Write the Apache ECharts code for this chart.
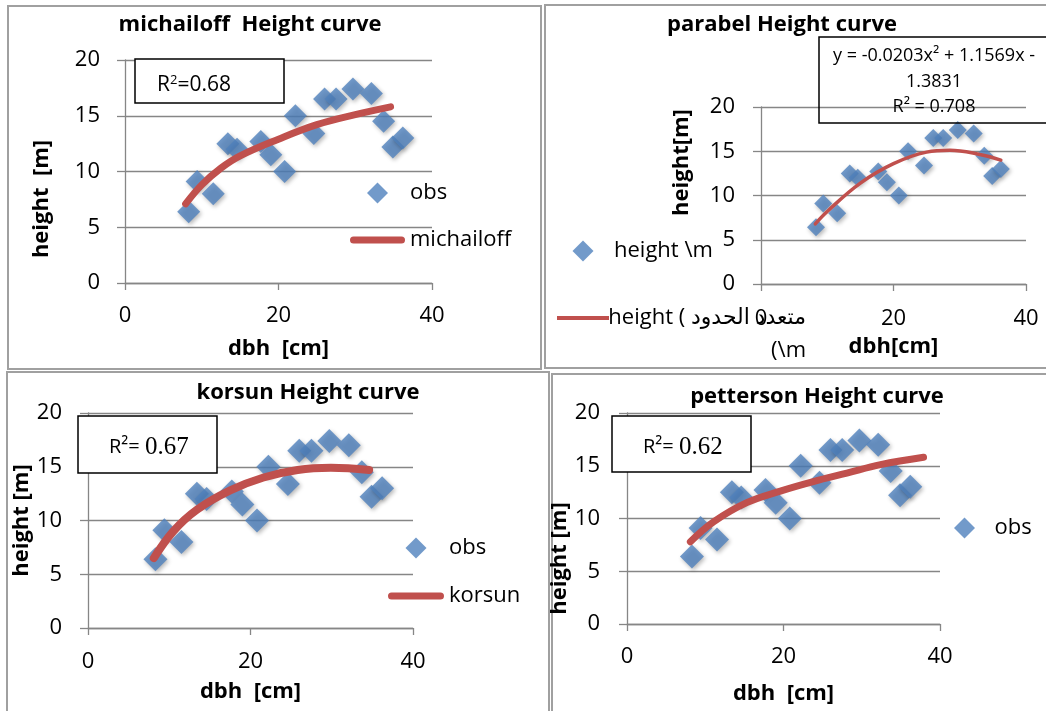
<!DOCTYPE html>
<html>
<head>
<meta charset="utf-8">
<script src="https://cdn.jsdelivr.net/npm/echarts@6/dist/echarts.min.js"></script>
<style>
  html, body { margin: 0; padding: 0; background: #fff; }
  #main { width: 1046px; height: 711px; }
</style>
</head>
<body>
<div id="main"></div>
<script>
// observed trees (same in all four panels)
var dbh    = [8.3, 9.4, 11.5, 13.4, 14.6, 17.7, 19.0, 20.8, 22.2, 24.6, 26.0, 27.5, 29.7, 32.1, 33.7, 34.9, 36.2];
var height = [6.4, 9.1, 8.0, 12.5, 12.0, 12.7, 11.5, 10.0, 15.0, 13.4, 16.5, 16.5, 17.4, 17.0, 14.5, 12.2, 13.0];

// fitted curves
var michailoffX = [7.9, 10, 12.5, 15, 20, 25, 30, 34.6];
var michailoffH = [7.1, 8.8, 10.3, 11.4, 12.9, 14.2, 15.1, 15.8];
var parabelX = [8.2, 10, 15, 20, 25, 28.5, 32, 36.2];
var parabelH = [6.8, 8.2, 11.4, 13.6, 14.9, 15.1, 14.8, 14.0];
var korsunX = [8.1, 10.5, 13.4, 17.5, 21.6, 25.8, 29.9, 34.6];
var korsunH = [6.5, 9.0, 11.0, 12.8, 14.0, 14.7, 14.9, 14.7];
var pettersonX = [8.1, 11.1, 15.3, 19.6, 23.8, 28.1, 32.4, 37.9];
var pettersonH = [7.8, 9.7, 11.5, 12.6, 13.5, 14.3, 15.1, 15.8];

var titles = ['michailoff  Height curve', 'parabel Height curve', 'korsun Height curve', 'petterson Height curve'];
var xNames = ['dbh  [cm]', 'dbh[cm]', 'dbh  [cm]', 'dbh  [cm]'];
var yNames = ['height  [m]', 'height[m]', 'height [m]', 'height [m]'];
var r2Values = ['0.68', '0.708', '0.67', '0.62'];
var obsName = 'height \\m';
var polyName = 'متعدد الحدود (height \\m)';

var FONT = '"Open Sans", "DejaVu Sans", sans-serif';
var AXIS = '#868686';
var BLUE = '#4f81bd';
var RED = '#c0504d';

// legend icons (built-in diamond gets stretched, paths keep their aspect)
var DIAMOND = 'path://M0,-1L1,0L0,1L-1,0Z';
var FAT_BAR = 'path://M3.5,0L51.5,0A3.5,3.5 0 0 1 51.5,7L3.5,7A3.5,3.5 0 0 1 3.5,0Z';
var THIN_BAR = 'path://M0,0L52,0L52,4L0,4Z';

function zip(a, b) {
  var out = [];
  for (var i = 0; i < a.length; i++) out.push([a[i], b[i]]);
  return out;
}

// plot areas: [left, top, width, height]
var plots = [
  [125, 60, 307, 223],
  [761, 107, 265, 177],
  [88, 413, 325, 215],
  [627, 413, 313, 211]
];
var xLabelMargin = [22, 24, 23, 22];
var xNameGap = [55, 52, 53, 59];
var yLabelMargin = [25, 26, 26, 27];
var yNameGap = [72, 68, 45, 40];
var yNamePad = [[0, 55, 0, 0], [0, 0, 0, 66], [0, 0, 0, 0], [0, 80, 0, 0]];

var grids = [], xAxes = [], yAxes = [];
for (var i = 0; i < 4; i++) {
  grids.push({ left: plots[i][0], top: plots[i][1], width: plots[i][2], height: plots[i][3] });
  xAxes.push({
    gridIndex: i, type: 'value', min: 0, max: 40, interval: 20,
    axisLine: { onZero: false, lineStyle: { color: AXIS, width: 1.3 } },
    axisTick: { show: true, length: 7, lineStyle: { color: AXIS, width: 1.3 } },
    axisLabel: { margin: xLabelMargin[i], fontSize: 22, color: '#000', fontFamily: FONT },
    splitLine: { show: false },
    name: xNames[i], nameLocation: 'middle', nameGap: xNameGap[i],
    nameTextStyle: { fontSize: 22, fontWeight: 'bold', color: '#000', fontFamily: FONT }
  });
  yAxes.push({
    gridIndex: i, type: 'value', min: 0, max: 20, interval: 5,
    axisLine: { show: true, lineStyle: { color: AXIS, width: 1.3 } },
    axisTick: { show: true, length: 8, lineStyle: { color: AXIS, width: 1.3 } },
    axisLabel: { margin: yLabelMargin[i], fontSize: 22, color: '#000', fontFamily: FONT },
    splitLine: { show: true, lineStyle: { color: AXIS, width: 1.3 } },
    name: yNames[i], nameLocation: 'middle', nameRotate: 90, nameGap: yNameGap[i],
    nameTextStyle: { fontSize: 22, fontWeight: 'bold', color: '#000', fontFamily: FONT, padding: yNamePad[i] }
  });
}

var titleCenters = [[250, 14], [782, 14], [308, 382], [817, 386]];
var titleList = titles.map(function (t, i) {
  return {
    text: t, left: titleCenters[i][0], top: titleCenters[i][1], textAlign: 'center', padding: 0,
    textStyle: { fontSize: 22, fontWeight: 'bold', color: '#000', fontFamily: FONT }
  };
});

function obsSeries(idx, name, size) {
  return {
    type: 'scatter', name: name, xAxisIndex: idx, yAxisIndex: idx,
    data: zip(dbh, height), symbol: 'diamond', symbolSize: size,
    itemStyle: { color: BLUE, shadowBlur: 4, shadowColor: 'rgba(0,0,0,0.35)', shadowOffsetX: 1.5, shadowOffsetY: 2 }
  };
}
function curveSeries(idx, name, xs, hs, w) {
  return {
    type: 'line', name: name, xAxisIndex: idx, yAxisIndex: idx,
    data: zip(xs, hs), smooth: 0.4, symbol: 'none',
    lineStyle: { color: RED, width: w, cap: 'round' }, itemStyle: { color: RED }
  };
}

var legendText = { fontSize: 22, color: '#000', fontFamily: FONT };
var legends = [
  { data: [{ name: 'obs', icon: DIAMOND }, { name: 'michailoff', icon: FAT_BAR }],
    orient: 'vertical', left: 350, top: 182, padding: 0,
    itemWidth: 55, itemHeight: 21, itemGap: 25, selectedMode: false, textStyle: legendText },
  { data: [{ name: obsName, icon: DIAMOND }, { name: polyName, icon: THIN_BAR }],
    orient: 'vertical', left: 557, top: 240, padding: 0,
    itemWidth: 52, itemHeight: 21, itemGap: 12, selectedMode: false,
    formatter: function (name) {
      if (name === polyName) return '{e| }\n{a|height ( متعدد الحدود}\n{b|(\\m}';
      return name;
    },
    textStyle: {
      fontSize: 22, color: '#000', fontFamily: FONT,
      rich: {
        e: { fontSize: 22, lineHeight: 44, fontFamily: FONT },
        a: { fontSize: 22, lineHeight: 22, width: 192, align: 'right', fontFamily: FONT },
        b: { fontSize: 22, lineHeight: 44, width: 192, align: 'right', fontFamily: FONT }
      }
    } },
  { data: [{ name: 'obs', icon: DIAMOND }, { name: 'korsun', icon: FAT_BAR }],
    orient: 'vertical', left: 388, top: 537, padding: 0,
    itemWidth: 56, itemHeight: 21, itemGap: 26, selectedMode: false, textStyle: legendText },
  { data: [{ name: 'obs', icon: DIAMOND }],
    orient: 'vertical', left: 954, top: 517, padding: 0,
    itemWidth: 50, itemHeight: 21, selectedMode: false, textStyle: legendText }
];

function border(x, y, w, h) {
  return { type: 'rect', shape: { x: x, y: y, width: w, height: h }, silent: true,
    style: { fill: 'none', stroke: '#a0a0a0', lineWidth: 2 }, z: 0 };
}
function box(x, y, w, h, fill) {
  return { type: 'rect', shape: { x: x, y: y, width: w, height: h }, silent: true,
    style: { fill: fill, stroke: '#000', lineWidth: 1.5 }, z: 10 };
}

var graphics = [
  border(8, 6, 533, 363),
  border(545, 5, 510, 363),
  border(7, 372, 542, 350),
  border(552, 374, 500, 350),
  box(135, 59, 149, 44, '#fff'),
  { type: 'text', x: 157, y: 85, z: 11, silent: true,
    style: { text: '{a|R}{s|2}{a|=' + r2Values[0] + '}', verticalAlign: 'middle',
      rich: { a: { fontSize: 21, fontFamily: FONT, fill: '#000' },
              s: { fontSize: 13, fontFamily: FONT, fill: '#000', padding: [0, 0, 10, 0] } } } },
  box(819, 37, 240, 86, 'none'),
  { type: 'text', x: 934, y: 81.5, z: 11, silent: true,
    style: { text: 'y = -0.0203x² + 1.1569x -\n1.3831\nR² = ' + r2Values[1], align: 'center',
      verticalAlign: 'middle', lineHeight: 25.5, fontSize: 18, fontFamily: FONT, fill: '#000' } },
  box(78, 416, 139, 57, '#fff'),
  { type: 'text', x: 109, y: 447, z: 11, silent: true,
    style: { text: '{s|R²= }{t|' + r2Values[2] + '}', verticalAlign: 'middle',
      rich: { s: { fontSize: 20, fontFamily: FONT, fill: '#000' },
              t: { fontSize: 25, fontFamily: '"Liberation Serif", serif', fill: '#000' } } } },
  box(612, 416, 139, 56, '#fff'),
  { type: 'text', x: 643, y: 447, z: 11, silent: true,
    style: { text: '{s|R²= }{t|' + r2Values[3] + '}', verticalAlign: 'middle',
      rich: { s: { fontSize: 20, fontFamily: FONT, fill: '#000' },
              t: { fontSize: 25, fontFamily: '"Liberation Serif", serif', fill: '#000' } } } }
];

var myChart = echarts.init(document.getElementById('main'));
myChart.setOption({
  animation: false,
  backgroundColor: '#fff',
  title: titleList,
  legend: legends,
  grid: grids,
  xAxis: xAxes,
  yAxis: yAxes,
  graphic: graphics,
  series: [
    obsSeries(0, 'obs', 23),
    curveSeries(0, 'michailoff', michailoffX, michailoffH, 7),
    obsSeries(1, obsName, 18),
    curveSeries(1, polyName, parabelX, parabelH, 3.5),
    obsSeries(2, 'obs', 24),
    curveSeries(2, 'korsun', korsunX, korsunH, 8),
    obsSeries(3, 'obs', 24),
    curveSeries(3, 'petterson', pettersonX, pettersonH, 7)
  ]
});
</script>
</body>
</html>
